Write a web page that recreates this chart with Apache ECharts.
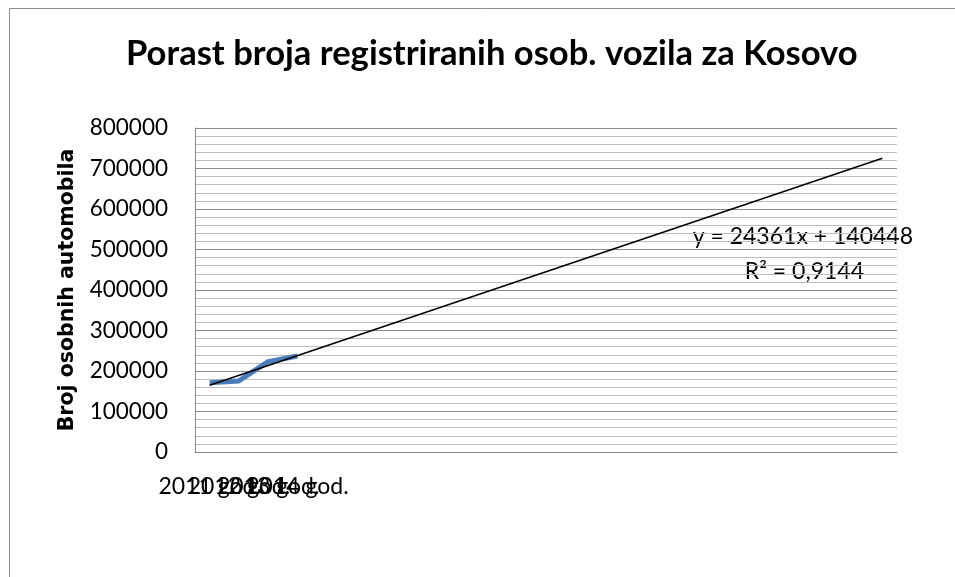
<!DOCTYPE html>
<html>
<head>
<meta charset="utf-8">
<script src="https://cdn.jsdelivr.net/npm/echarts@6/dist/echarts.min.js"></script>
<style>
  html, body { margin: 0; padding: 0; background: #fff; }
</style>
</head>
<body>
<!-- chart container, same size as the reference -->
<div id="main" style="width: 955px;height:577px;"></div>
<script>
// categories (years) and registered passenger cars
var years = ['2011 god.', '2012 god.', '2013 god.', '2014 god.'];
var cars = [171000, 175500, 223000, 237000];

// linear trendline as printed on the chart, extended 20 periods forward
var trendSlope = 24361;
var trendIntercept = 140448;
var trendForward = 20;
var trendLabel = 'y = 24361x + 140448';
var r2Label = 'R² = 0,9144';

var yTicks = [0, 800000, 100000]; // min, max, step

var FONT = 'Lato';

var myChart = echarts.init(document.getElementById('main'));

var lastPeriod = years.length + trendForward;
var carPoints = cars.map(function (v, i) { return [i + 1, v]; });
var trendPoints = [
  [1, trendSlope * 1 + trendIntercept],
  [lastPeriod, trendSlope * lastPeriod + trendIntercept]
];

var option = {
  backgroundColor: '#fff',
  animation: false,
  title: {
    text: 'Porast broja registriranih osob. vozila za Kosovo',
    left: 121,
    top: 31,
    textStyle: {
      fontFamily: FONT,
      fontWeight: 'bold',
      fontSize: 34.6,
      color: '#000'
    }
  },
  grid: {
    left: 195,
    right: 58,
    top: 128,
    bottom: 125
  },
  xAxis: {
    type: 'value',
    min: 0.5,
    max: lastPeriod + 0.5,
    interval: 0.5,
    axisLine: { show: true, lineStyle: { color: '#888', width: 1 } },
    axisTick: { show: false },
    splitLine: { show: false },
    axisLabel: {
      margin: 23,
      fontFamily: FONT,
      fontSize: 23,
      color: '#000',
      showMinLabel: true,
      showMaxLabel: true,
      formatter: function (v) {
        var i = Math.round(v * 2) / 2;
        if (i % 1 !== 0) return '';
        return years[i - 1] || '';
      }
    }
  },
  yAxis: {
    type: 'value',
    min: yTicks[0],
    max: yTicks[1],
    interval: yTicks[2],
    name: 'Broj osobnih automobila',
    nameLocation: 'middle',
    nameGap: 117,
    nameTextStyle: {
      fontFamily: 'DejaVu Sans',
      fontWeight: 'bold',
      fontSize: 20.5,
      color: '#000'
    },
    axisLine: { show: true, lineStyle: { color: '#888', width: 1 } },
    axisTick: { show: false },
    axisLabel: {
      margin: 27,
      fontFamily: FONT,
      fontSize: 22.5,
      color: '#000',
      formatter: function (v) { return String(v); }
    },
    splitLine: { show: true, lineStyle: { color: '#8c8c8c', width: 1 } },
    minorTick: { show: false, splitNumber: 5 },
    minorSplitLine: { show: true, lineStyle: { color: '#bdbdbd', width: 1 } }
  },
  series: [
    {
      name: 'Broj vozila',
      type: 'line',
      data: carPoints,
      showSymbol: false,
      lineStyle: { color: '#4a7ebb', width: 5 },
      z: 2
    },
    {
      name: 'Linear',
      type: 'line',
      data: trendPoints,
      showSymbol: false,
      lineStyle: { color: '#000', width: 1.5 },
      z: 3
    }
  ],
  graphic: [
    {
      // outer chart border (only left and top visible in the reference)
      type: 'rect',
      shape: { x: 9.5, y: 8.5, width: 1000, height: 700 },
      style: { fill: null, stroke: '#8c8c8c', lineWidth: 1 },
      silent: true
    },
    {
      type: 'text',
      right: 42,
      top: 225,
      style: { text: trendLabel, fontFamily: FONT, fontSize: 23, fill: '#000' }
    },
    {
      type: 'text',
      right: 91,
      top: 260,
      style: { text: r2Label, fontFamily: FONT, fontSize: 23, fill: '#000' }
    }
  ]
};

myChart.setOption(option);
</script>
</body>
</html>
